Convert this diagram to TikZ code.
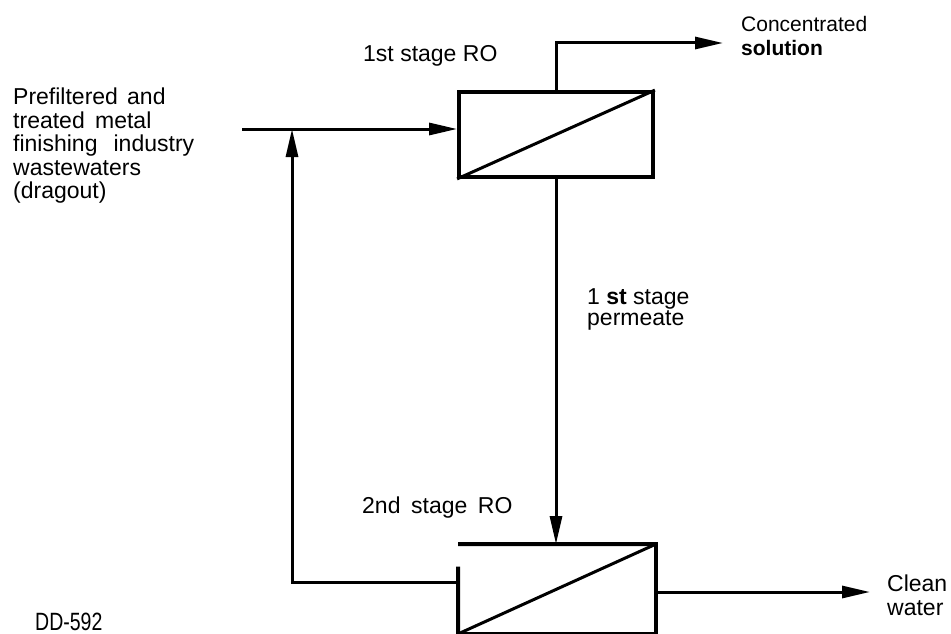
\documentclass[tikz,border=0pt]{standalone}
\usepackage{fontspec}
\setmainfont{Liberation Sans}
\newfontfamily\condsans{Liberation Sans}[FakeStretch=0.78]
\usetikzlibrary{arrows.meta,positioning,calc}

\begin{document}
\begin{tikzpicture}[
		x=1pt, y=-1pt,
		font=\fontsize{23}{23.5}\selectfont,
		unit/.style={draw, line width=3.8pt, minimum width=194pt, minimum height=85pt, inner sep=0pt},
		lbl/.style={align=left, inner sep=0pt},
		arr/.style={-{Triangle[length=28pt, width=12pt]}, line width=3pt}
	]
	\useasboundingbox (0,0) rectangle (951,634);

	% RO units
	\node[unit] (ro1) at (556,134.5) {};
	\node[unit, draw=none, minimum height=86pt] (ro2) at (557,589) {};
	\draw[line width=3pt] (ro1.south west) -- (ro1.north east);
	\draw[line width=3.8pt] ($(ro2.south west)!0.75!(ro2.north west)$) -- (ro2.south west)
		-- (ro2.south east) -- (ro2.north east) -- (ro2.north west);
	\draw[line width=3pt] (ro2.south west) -- (ro2.north east);

	\coordinate (feed) at (242,129);
	\coordinate (ret) at (292,582);
	\coordinate (conc) at (723,43);
	\coordinate (clean) at (870,592);

	\draw[arr] (feed) -- (feed -| ro1.west);
	\draw[arr] (ro2.west |- ret) -- (ret) -- (ret |- feed);
	\draw[arr] (ro1.north) -- (ro1.north |- conc) -- (conc);
	\draw[arr] (ro1.south) -- (ro1.south |- ro2.north);
	\draw[arr] (ro2.east |- clean) -- (clean);

	% labels
	\node[lbl, anchor=north west] (inlet) at (13,88) {Prefiltered\hspace{0.4em}and\\treated\hspace{0.45em}metal\\finishing\hspace{0.7em}industry\\wastewaters\\(dragout)};
	\node[lbl, anchor=base west] (ro1lbl) at (363,62) {1st stage RO};
	\node[lbl, anchor=north west, font=\fontsize{21}{24}\selectfont] (conclbl) at (741,16) {Concentrated\\\textbf{solution}};
	\node[lbl, anchor=north west, font=\fontsize{23}{21}\selectfont] (permlbl) at (587,288) {1 \textbf{st} stage\\permeate};
	\node[lbl, anchor=base west] (ro2lbl) at (362,513) {2nd\hspace{0.46em}stage\hspace{0.46em}RO};
	\node[lbl, anchor=north west] (cleanlbl) at (887,575) {Clean\\water};
	\node[lbl, anchor=base west, font=\condsans\fontsize{25}{26}\selectfont] (ref) at (35,630) {DD-592};
\end{tikzpicture}
\end{document}
